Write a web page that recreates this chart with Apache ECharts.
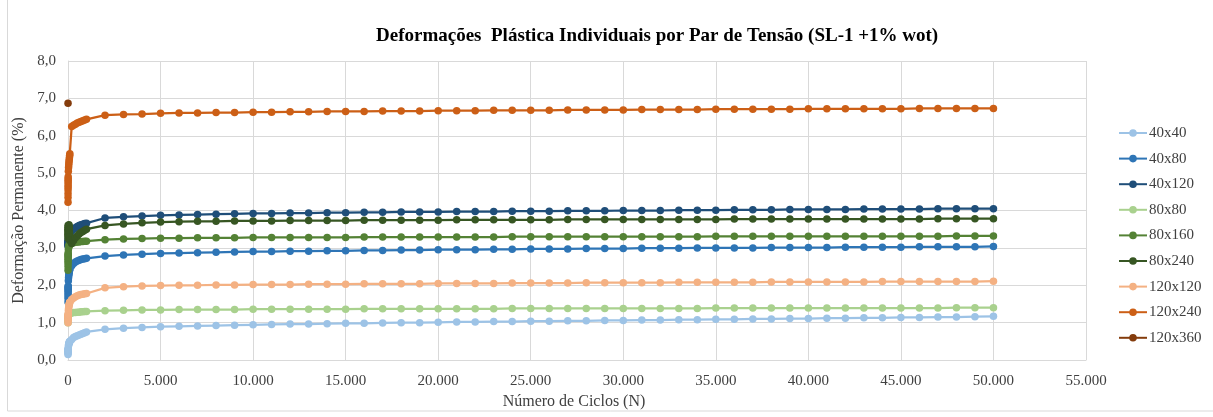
<!DOCTYPE html>
<html>
<head>
<meta charset="utf-8">
<script src="https://cdn.jsdelivr.net/npm/echarts@6/dist/echarts.min.js"></script>
<style>
  html, body { margin: 0; padding: 0; background: #ffffff; }
  #chart { width: 1213px; height: 417px; }
</style>
</head>
<body>
<div id="chart"></div>
<script>
// Number of load cycles at which permanent deformation was read
const cycles = [
  1, 2, 3, 4, 5, 6, 7, 8, 9, 10,
  20, 30, 40, 50, 60, 70, 80, 90, 100,
  200, 300, 400, 500, 600, 700, 800, 900, 1000,
  2000, 3000, 4000, 5000, 6000, 7000, 8000, 9000, 10000,
  11000, 12000, 13000, 14000, 15000, 16000, 17000, 18000, 19000, 20000,
  21000, 22000, 23000, 24000, 25000, 26000, 27000, 28000, 29000, 30000,
  31000, 32000, 33000, 34000, 35000, 36000, 37000, 38000, 39000, 40000,
  41000, 42000, 43000, 44000, 45000, 46000, 47000, 48000, 49000, 50000
];

// Permanent deformation (%) per stress pair
const s40x40 = [
  0.15, 0.18, 0.20, 0.22, 0.24, 0.26, 0.27, 0.28, 0.29, 0.30,
  0.36, 0.40, 0.42, 0.44, 0.46, 0.47, 0.48, 0.49, 0.50,
  0.55, 0.60, 0.63, 0.65, 0.67, 0.69, 0.71, 0.73, 0.75,
  0.82, 0.85, 0.87, 0.89, 0.90, 0.91, 0.92, 0.93, 0.94,
  0.95, 0.96, 0.96, 0.97, 0.98, 0.98, 0.99, 1.00, 1.00, 1.01,
  1.02, 1.02, 1.03, 1.03, 1.04, 1.04, 1.05, 1.05, 1.06, 1.06,
  1.07, 1.07, 1.08, 1.08, 1.09, 1.09, 1.10, 1.10, 1.11, 1.11,
  1.12, 1.12, 1.13, 1.13, 1.14, 1.14, 1.15, 1.15, 1.16, 1.17
];
const s40x80 = [
  1.55, 1.65, 1.72, 1.78, 1.83, 1.87, 1.90, 1.93, 1.96, 1.98,
  2.12, 2.20, 2.26, 2.30, 2.34, 2.37, 2.40, 2.42, 2.44,
  2.52, 2.58, 2.62, 2.65, 2.67, 2.69, 2.70, 2.71, 2.72,
  2.78, 2.81, 2.83, 2.85, 2.86, 2.87, 2.88, 2.89, 2.90,
  2.90, 2.91, 2.91, 2.92, 2.92, 2.93, 2.93, 2.94, 2.94, 2.95,
  2.95, 2.95, 2.96, 2.96, 2.97, 2.97, 2.97, 2.98, 2.98, 2.98,
  2.99, 2.99, 2.99, 3.00, 3.00, 3.00, 3.00, 3.01, 3.01, 3.01,
  3.01, 3.02, 3.02, 3.02, 3.02, 3.03, 3.03, 3.03, 3.03, 3.04
];
const s40x120 = [
  3.05, 3.08, 3.10, 3.12, 3.14, 3.15, 3.16, 3.17, 3.18, 3.19,
  3.25, 3.28, 3.30, 3.32, 3.33, 3.35, 3.36, 3.37, 3.38,
  3.45, 3.50, 3.54, 3.57, 3.60, 3.62, 3.63, 3.65, 3.66,
  3.80, 3.83, 3.85, 3.87, 3.88, 3.89, 3.90, 3.91, 3.92,
  3.92, 3.93, 3.93, 3.94, 3.94, 3.95, 3.95, 3.96, 3.96, 3.96,
  3.97, 3.97, 3.97, 3.98, 3.98, 3.98, 3.99, 3.99, 3.99, 4.00,
  4.00, 4.00, 4.01, 4.01, 4.01, 4.02, 4.02, 4.02, 4.03, 4.03,
  4.03, 4.03, 4.04, 4.04, 4.04, 4.04, 4.05, 4.05, 4.05, 4.05
];
const s80x80 = [
  1.00, 1.04, 1.07, 1.09, 1.11, 1.12, 1.13, 1.14, 1.15, 1.16,
  1.19, 1.21, 1.22, 1.23, 1.23, 1.24, 1.24, 1.25, 1.25,
  1.26, 1.27, 1.27, 1.28, 1.28, 1.29, 1.29, 1.30, 1.30,
  1.32, 1.33, 1.34, 1.34, 1.35, 1.35, 1.35, 1.35, 1.36,
  1.36, 1.36, 1.36, 1.36, 1.36, 1.37, 1.37, 1.37, 1.37, 1.37,
  1.37, 1.37, 1.37, 1.38, 1.38, 1.38, 1.38, 1.38, 1.38, 1.38,
  1.38, 1.38, 1.38, 1.38, 1.39, 1.39, 1.39, 1.39, 1.39, 1.39,
  1.39, 1.39, 1.39, 1.39, 1.39, 1.39, 1.39, 1.40, 1.40, 1.40
];
const s80x160 = [
  2.40, 2.50, 2.58, 2.64, 2.69, 2.73, 2.77, 2.80, 2.83, 2.86,
  2.95, 3.00, 3.03, 3.05, 3.07, 3.08, 3.09, 3.10, 3.11,
  3.13, 3.14, 3.15, 3.16, 3.16, 3.17, 3.17, 3.18, 3.18,
  3.22, 3.24, 3.25, 3.26, 3.26, 3.27, 3.27, 3.27, 3.28,
  3.28, 3.28, 3.28, 3.28, 3.28, 3.29, 3.29, 3.29, 3.29, 3.29,
  3.29, 3.29, 3.29, 3.30, 3.30, 3.30, 3.30, 3.30, 3.30, 3.30,
  3.30, 3.30, 3.30, 3.30, 3.31, 3.31, 3.31, 3.31, 3.31, 3.31,
  3.31, 3.31, 3.31, 3.31, 3.31, 3.31, 3.31, 3.32, 3.32, 3.32
];
const s80x240 = [
  3.35, 3.50, 3.60, 3.55, 3.45, 3.40, 3.30, 3.25, 3.35, 3.45,
  3.50, 3.55, 3.60, 3.62, 3.58, 3.50, 3.40, 3.30, 3.20,
  3.12, 3.20, 3.27, 3.32, 3.37, 3.41, 3.44, 3.47, 3.50,
  3.60, 3.64, 3.67, 3.69, 3.70, 3.71, 3.71, 3.72, 3.72,
  3.72, 3.73, 3.73, 3.73, 3.73, 3.74, 3.74, 3.74, 3.74, 3.74,
  3.75, 3.75, 3.75, 3.75, 3.75, 3.75, 3.76, 3.76, 3.76, 3.76,
  3.76, 3.76, 3.76, 3.76, 3.76, 3.77, 3.77, 3.77, 3.77, 3.77,
  3.77, 3.77, 3.77, 3.77, 3.77, 3.77, 3.78, 3.78, 3.78, 3.78
];
const s120x120 = [
  1.00, 1.05, 1.09, 1.12, 1.15, 1.17, 1.19, 1.20, 1.22, 1.23,
  1.32, 1.38, 1.42, 1.45, 1.48, 1.50, 1.52, 1.54, 1.55,
  1.62, 1.66, 1.69, 1.72, 1.74, 1.75, 1.76, 1.77, 1.78,
  1.93, 1.96, 1.98, 1.99, 2.00, 2.00, 2.01, 2.01, 2.02,
  2.02, 2.02, 2.03, 2.03, 2.03, 2.04, 2.04, 2.04, 2.04, 2.05,
  2.05, 2.05, 2.05, 2.06, 2.06, 2.06, 2.06, 2.07, 2.07, 2.07,
  2.07, 2.07, 2.08, 2.08, 2.08, 2.08, 2.08, 2.09, 2.09, 2.09,
  2.09, 2.09, 2.09, 2.10, 2.10, 2.10, 2.10, 2.10, 2.10, 2.11
];
const s120x240 = [
  4.22, 4.35, 4.45, 4.55, 4.62, 4.68, 4.75, 4.80, 4.85, 4.90,
  5.05, 5.15, 5.22, 5.28, 5.33, 5.38, 5.43, 5.48, 5.52,
  6.25, 6.28, 6.31, 6.34, 6.36, 6.38, 6.40, 6.42, 6.44,
  6.55, 6.57, 6.58, 6.60, 6.61, 6.61, 6.62, 6.62, 6.63,
  6.63, 6.64, 6.64, 6.65, 6.65, 6.65, 6.66, 6.66, 6.66, 6.67,
  6.67, 6.67, 6.68, 6.68, 6.68, 6.68, 6.69, 6.69, 6.69, 6.69,
  6.70, 6.70, 6.70, 6.70, 6.71, 6.71, 6.71, 6.71, 6.71, 6.72,
  6.72, 6.72, 6.72, 6.72, 6.72, 6.73, 6.73, 6.73, 6.73, 6.73
];
// The 120x360 specimen has a single reading
const cycles120x360 = [1];
const s120x360 = [6.87];

const seriesNames = ['40x40', '40x80', '40x120', '80x80', '80x160', '80x240', '120x120', '120x240', '120x360'];
const seriesColors = ['#9DC3E6', '#2E75B6', '#1F4E79', '#A9D18E', '#548235', '#375623', '#F4B183', '#CC5F16', '#843C0C'];
const seriesValues = [s40x40, s40x80, s40x120, s80x80, s80x160, s80x240, s120x120, s120x240, s120x360];
const seriesCycles = [cycles, cycles, cycles, cycles, cycles, cycles, cycles, cycles, cycles120x360];

const xTicks = { min: 0, max: 55000, step: 5000 };
const yTicks = { min: 0, max: 8, step: 1 };

const serif = '"Liberation Serif", "Times New Roman", serif';
const textColor = '#404040';
const gridColor = '#D9D9D9';

function pairs(xs, ys) {
  return ys.map((v, i) => [xs[i], v]);
}

const series = seriesNames.map((name, i) => ({
  name: name,
  type: 'line',
  data: pairs(seriesCycles[i], seriesValues[i]),
  symbol: 'circle',
  symbolSize: 7.5,
  showSymbol: true,
  lineStyle: { width: 2.25, color: seriesColors[i] },
  itemStyle: { color: seriesColors[i] },
  emphasis: { disabled: true },
  animation: false
}));

const chart = echarts.init(document.getElementById('chart'), null, { renderer: 'canvas' });
chart.setOption({
  backgroundColor: '#ffffff',
  animation: false,
  color: seriesColors,
  title: {
    text: 'Deformações  Plástica Individuais por Par de Tensão (SL-1 +1% wot)',
    left: 371,
    top: 22,
    textStyle: { fontFamily: serif, fontSize: 19, fontWeight: 'bold', color: '#000000' }
  },
  legend: {
    orient: 'vertical',
    left: 1113,
    top: 120,
    itemGap: 9.6,
    itemWidth: 28,
    itemHeight: 9.5,
    data: seriesNames,
    textStyle: { fontFamily: serif, fontSize: 15, lineHeight: 16, color: textColor, padding: [0, 0, 0, -3] }
  },
  grid: { left: 68, right: 127, top: 61, bottom: 57, containLabel: false },
  xAxis: {
    type: 'value',
    min: xTicks.min,
    max: xTicks.max,
    interval: xTicks.step,
    name: 'Número de Ciclos (N)',
    nameLocation: 'middle',
    nameGap: 33,
    nameTextStyle: { fontFamily: serif, fontSize: 16, color: textColor, padding: [0, 6, 0, 0] },
    axisLine: { show: true, lineStyle: { color: gridColor } },
    axisTick: { show: false },
    splitLine: { show: true, lineStyle: { color: gridColor, width: 1 } },
    axisLabel: {
      fontFamily: serif, fontSize: 15, color: textColor, margin: 14,
      formatter: v => v === 0 ? '0' : v.toLocaleString('de-DE')
    }
  },
  yAxis: {
    type: 'value',
    min: yTicks.min,
    max: yTicks.max,
    interval: yTicks.step,
    name: 'Deformação Permanente (%)',
    nameLocation: 'middle',
    nameGap: 34,
    nameTextStyle: { fontFamily: serif, fontSize: 16, color: textColor },
    axisLine: { show: true, lineStyle: { color: gridColor } },
    axisTick: { show: false },
    splitLine: { show: true, lineStyle: { color: gridColor, width: 1 } },
    axisLabel: {
      fontFamily: serif, fontSize: 15, color: textColor, margin: 12,
      formatter: v => v.toFixed(1).replace('.', ',')
    }
  },
  graphic: [{
    type: 'rect',
    shape: { x: 7.5, y: -2, width: 1210, height: 413 },
    style: { fill: 'none', stroke: '#D9D9D9', lineWidth: 1 },
    silent: true
  }],
  series: series
});
</script>
</body>
</html>
